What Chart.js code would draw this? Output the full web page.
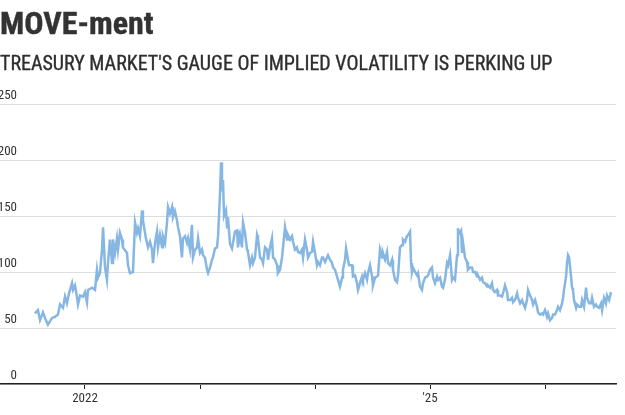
<!DOCTYPE html>
<html>
<head>
<meta charset="utf-8">
<script src="https://cdn.jsdelivr.net/npm/chart.js@4.4.1/dist/chart.umd.min.js"></script>
<style>
  html, body { margin: 0; padding: 0; background: #fff; }
  #wrap { position: relative; width: 625px; height: 415px; overflow: hidden; }
  #title {
    position: absolute; left: 0; top: 7px; margin: 0;
    font: bold 32px/32px "Liberation Sans Narrow", "Roboto Condensed", "DejaVu Sans Condensed", sans-serif;
    color: #333;
    -webkit-text-stroke: 0.4px #333;
  }
  #subtitle {
    position: absolute; left: 0; top: 53px; margin: 0;
    font: 20px/20px "Liberation Sans Narrow", "Roboto Condensed", "DejaVu Sans Condensed", sans-serif;
    color: #2e2e2e;
    -webkit-text-stroke: 0.35px #2e2e2e;
  }
  canvas { position: absolute; left: 0; top: 0; }
</style>
</head>
<body>
<div id="wrap">
  <canvas id="canvas" width="625" height="415"></canvas>
  <h1 id="title">MOVE-ment</h1>
  <h2 id="subtitle">TREASURY MARKET'S GAUGE OF IMPLIED VOLATILITY IS PERKING UP</h2>
</div>
<script>
// ICE BofA MOVE index (x = decimal year)
const dates = [
  2021.565, 2021.591, 2021.609, 2021.635, 2021.652, 2021.678, 2021.713, 2021.739, 2021.765, 2021.783,
  2021.809, 2021.826, 2021.843, 2021.861, 2021.887, 2021.896, 2021.913, 2021.930, 2021.939, 2021.957,
  2021.983, 2022.000, 2022.017, 2022.026, 2022.061, 2022.087, 2022.104, 2022.113, 2022.130, 2022.148,
  2022.157, 2022.174, 2022.191, 2022.200, 2022.217, 2022.235, 2022.243, 2022.261, 2022.278, 2022.287,
  2022.304, 2022.322, 2022.330, 2022.365, 2022.374, 2022.391, 2022.417, 2022.435, 2022.452, 2022.461,
  2022.478, 2022.496, 2022.504, 2022.530, 2022.548, 2022.565, 2022.583, 2022.591, 2022.609, 2022.626,
  2022.635, 2022.652, 2022.670, 2022.678, 2022.696, 2022.713, 2022.722, 2022.739, 2022.757, 2022.765,
  2022.783, 2022.800, 2022.809, 2022.826, 2022.843, 2022.852, 2022.870, 2022.887, 2022.896, 2022.913,
  2022.930, 2022.939, 2022.957, 2022.974, 2022.983, 2023.000, 2023.017, 2023.026, 2023.043, 2023.061,
  2023.070, 2023.087, 2023.104, 2023.113, 2023.130, 2023.148, 2023.157, 2023.174, 2023.183, 2023.191,
  2023.200, 2023.209, 2023.226, 2023.235, 2023.243, 2023.261, 2023.278, 2023.287, 2023.304, 2023.322,
  2023.330, 2023.348, 2023.365, 2023.374, 2023.391, 2023.409, 2023.417, 2023.435, 2023.452, 2023.461,
  2023.478, 2023.496, 2023.504, 2023.522, 2023.539, 2023.548, 2023.565, 2023.583, 2023.591, 2023.609,
  2023.626, 2023.635, 2023.652, 2023.670, 2023.678, 2023.696, 2023.713, 2023.722, 2023.739, 2023.757,
  2023.765, 2023.783, 2023.800, 2023.809, 2023.826, 2023.843, 2023.852, 2023.870, 2023.887, 2023.896,
  2023.913, 2023.930, 2023.939, 2023.957, 2023.974, 2023.983, 2024.000, 2024.017, 2024.026, 2024.043,
  2024.061, 2024.070, 2024.087, 2024.104, 2024.113, 2024.130, 2024.148, 2024.157, 2024.174, 2024.191,
  2024.200, 2024.217, 2024.235, 2024.243, 2024.261, 2024.270, 2024.287, 2024.296, 2024.322, 2024.330,
  2024.348, 2024.365, 2024.374, 2024.391, 2024.409, 2024.417, 2024.435, 2024.452, 2024.461, 2024.478,
  2024.496, 2024.504, 2024.522, 2024.539, 2024.548, 2024.565, 2024.583, 2024.591, 2024.609, 2024.626,
  2024.635, 2024.652, 2024.670, 2024.678, 2024.696, 2024.713, 2024.722, 2024.739, 2024.757, 2024.765,
  2024.783, 2024.800, 2024.809, 2024.826, 2024.835, 2024.843, 2024.852, 2024.870, 2024.887, 2024.896,
  2024.913, 2024.930, 2024.939, 2024.957, 2024.974, 2024.983, 2025.000, 2025.017, 2025.026, 2025.043,
  2025.061, 2025.070, 2025.087, 2025.104, 2025.113, 2025.130, 2025.148, 2025.157, 2025.174, 2025.191,
  2025.200, 2025.217, 2025.235, 2025.243, 2025.252, 2025.270, 2025.278, 2025.287, 2025.304, 2025.322,
  2025.330, 2025.348, 2025.365, 2025.374, 2025.391, 2025.409, 2025.417, 2025.435, 2025.452, 2025.461,
  2025.478, 2025.496, 2025.504, 2025.522, 2025.539, 2025.548, 2025.565, 2025.583, 2025.591, 2025.609,
  2025.626, 2025.635, 2025.652, 2025.670, 2025.678, 2025.696, 2025.713, 2025.722, 2025.739, 2025.757,
  2025.765, 2025.783, 2025.800, 2025.809, 2025.826, 2025.843, 2025.852, 2025.870, 2025.887, 2025.896,
  2025.913, 2025.930, 2025.939, 2025.957, 2025.974, 2025.983, 2026.000, 2026.017, 2026.026, 2026.043,
  2026.061, 2026.070, 2026.087, 2026.104, 2026.113, 2026.130, 2026.148, 2026.157, 2026.165, 2026.183,
  2026.191, 2026.200, 2026.209, 2026.226, 2026.235, 2026.243, 2026.252, 2026.270, 2026.278, 2026.296,
  2026.313, 2026.322, 2026.339, 2026.357, 2026.365, 2026.383, 2026.400, 2026.409, 2026.426, 2026.443,
  2026.452, 2026.470, 2026.487, 2026.496, 2026.513, 2026.530, 2026.539, 2026.557, 2026.574
];
const moveIndex = [
  63, 66, 57, 64, 59, 53, 59, 60, 62, 71,
  68, 78, 72, 81, 90, 84, 88, 78, 71, 79,
  78, 82, 73, 84, 86, 84, 102, 95, 99, 120,
  140, 104, 93, 108, 129, 108, 129, 117, 130, 120,
  135, 129, 122, 117, 106, 99, 100, 144, 135, 139,
  132, 155, 146, 130, 122, 127, 120, 108, 126, 136,
  122, 133, 122, 132, 126, 144, 158, 152, 158, 149,
  154, 146, 140, 132, 113, 130, 132, 126, 130, 120,
  142, 113, 120, 122, 130, 117, 120, 115, 113, 102,
  99, 104, 111, 113, 121, 122, 132, 170, 198, 172,
  182, 150, 155, 140, 149, 125, 121, 126, 136, 137,
  122, 133, 122, 144, 135, 120, 118, 106, 113, 108,
  113, 133, 130, 113, 111, 108, 122, 120, 111, 122,
  130, 113, 111, 106, 99, 102, 113, 122, 140, 129,
  133, 129, 132, 127, 120, 122, 118, 117, 120, 113,
  129, 120, 113, 117, 118, 127, 117, 106, 109, 106,
  113, 113, 109, 113, 115, 111, 108, 104, 102, 96,
  93, 87, 95, 102, 111, 121, 111, 106, 106, 96,
  97, 90, 84, 90, 96, 93, 99, 93, 99, 106,
  96, 88, 95, 96, 97, 120, 113, 117, 111, 118,
  108, 106, 111, 102, 93, 91, 97, 122, 124, 129,
  127, 132, 133, 136, 108, 100, 104, 100, 97, 99,
  87, 84, 90, 95, 96, 97, 102, 104, 95, 90,
  96, 93, 95, 87, 86, 93, 108, 106, 115, 93,
  95, 93, 115, 139, 134, 137, 117, 126, 113, 109,
  102, 104, 104, 100, 100, 96, 97, 93, 95, 91,
  90, 87, 88, 86, 90, 84, 82, 84, 79, 79,
  78, 81, 88, 82, 75, 75, 77, 73, 75, 81,
  77, 72, 75, 72, 68, 75, 84, 79, 75, 71,
  75, 69, 64, 62, 63, 62, 66, 60, 63, 57,
  59, 62, 62, 66, 69, 66, 72, 77, 84, 96,
  108, 115, 113, 96, 86, 84, 75, 68, 71, 69,
  69, 75, 69, 86, 77, 72, 72, 77, 69, 71,
  69, 68, 72, 66, 77, 72, 79, 75, 82
];

const yearTicks = [2022, 2023, 2024, 2025, 2026];
const yearLabels = ['2022', '', '', "'25", ''];
const yTicks = [0, 50, 100, 150, 200, 250];

const FONT = '"Liberation Sans Narrow", "Roboto Condensed", "DejaVu Sans Condensed", sans-serif';
Chart.defaults.font.family = FONT;
Chart.defaults.color = '#333';

// y labels sit above their gridlines at the far left
const yLabelPlugin = {
  id: 'yLabels',
  afterDraw(chart) {
    const ys = chart.scales.y;
    const ctx = chart.ctx;
    ctx.save();
    ctx.font = '13px ' + FONT;
    ctx.fillStyle = '#333';
    ctx.textAlign = 'right';
    ctx.textBaseline = 'alphabetic';
    yTicks.forEach(v => ctx.fillText(String(v), 17, ys.getPixelForValue(v) - 5));
    ctx.restore();
  }
};

new Chart(document.getElementById('canvas').getContext('2d'), {
  type: 'line',
  data: {
    datasets: [{
      label: 'MOVE',
      data: dates.map((d, i) => ({ x: d, y: moveIndex[i] })),
      borderColor: '#86b6e2',
      borderWidth: 2.5,
      pointRadius: 0,
      fill: false,
      tension: 0
    }]
  },
  options: {
    responsive: false,
    animation: false,
    layout: { padding: { top: 104, right: 9, bottom: 0, left: 0 } },
    plugins: { legend: { display: false }, tooltip: { enabled: false } },
    scales: {
      x: {
        type: 'linear',
        min: 2021.261,
        max: 2026.617,
        afterBuildTicks: s => { s.ticks = yearTicks.map(v => ({ value: v })); },
        afterFit: s => { s.height = 31; },
        ticks: {
          autoSkip: false,
          maxRotation: 0,
          padding: 2,
          font: { size: 13 },
          color: '#333',
          callback: v => yearLabels[yearTicks.indexOf(v)]
        },
        grid: { drawOnChartArea: false, drawTicks: true, tickLength: 5, color: '#222' },
        border: { display: true, color: '#222', width: 1.5 }
      },
      y: {
        min: 0,
        max: 250,
        afterBuildTicks: s => { s.ticks = yTicks.map(v => ({ value: v })); },
        afterFit: s => { s.width = 0; },
        ticks: { display: false },
        grid: { color: '#dedede', lineWidth: 1, drawTicks: false },
        border: { display: false }
      }
    }
  },
  plugins: [yLabelPlugin]
});
</script>
</body>
</html>
